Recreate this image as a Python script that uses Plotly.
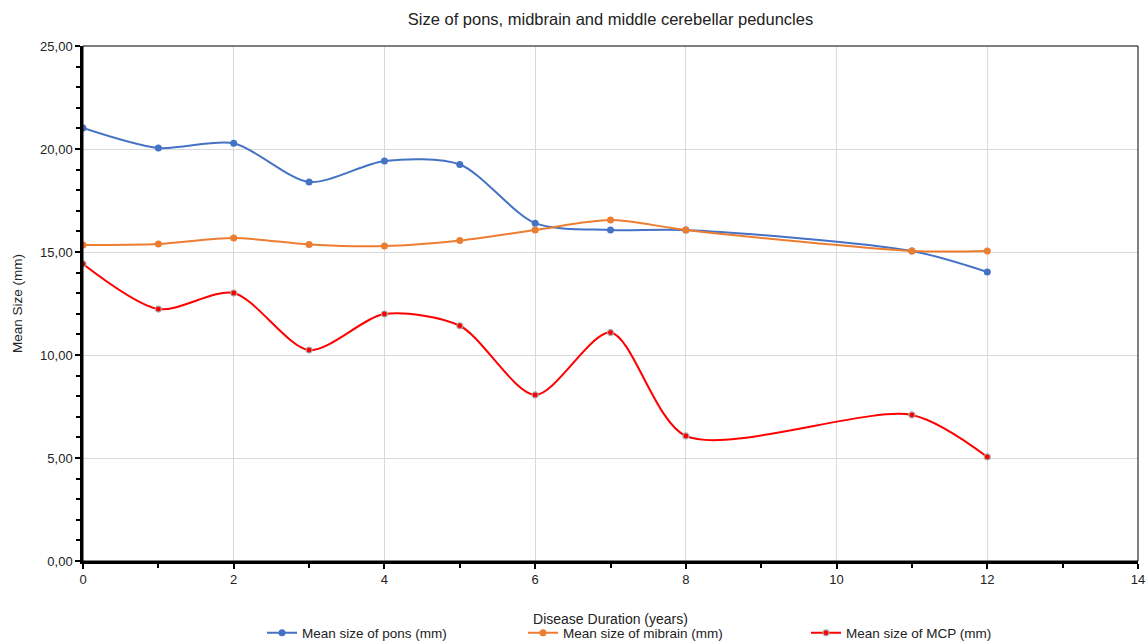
import plotly.graph_objects as go

years_pons = [0, 1, 2, 3, 4, 5, 6, 7, 8, 11, 12]
pons = [21.02, 20.05, 20.28, 18.40, 19.42, 19.25, 16.40, 16.07, 16.07, 15.05, 14.03]

years_mid = [0, 1, 2, 3, 4, 5, 6, 7, 8, 11, 12]
midbrain = [15.34, 15.39, 15.68, 15.37, 15.29, 15.56, 16.07, 16.55, 16.07, 15.05, 15.05]

years_mcp = [0, 1, 2, 3, 4, 5, 6, 7, 8, 11, 12]
mcp = [14.42, 12.23, 13.01, 10.24, 11.99, 11.42, 8.06, 11.09, 6.07, 7.09, 5.05]

FONT = "Liberation Sans"
TXT = "#222222"

fig = go.Figure()
fig.add_trace(go.Scatter(
    x=years_pons, y=pons, mode="lines+markers", name="Mean size of pons (mm)",
    line=dict(color="#4472C4", width=2, shape="spline", smoothing=0.8),
    marker=dict(color="#4472C4", size=7), legend="legend"))
fig.add_trace(go.Scatter(
    x=years_mid, y=midbrain, mode="lines+markers", name="Mean size of mibrain (mm)",
    line=dict(color="#ED7D31", width=2, shape="spline", smoothing=0.8),
    marker=dict(color="#ED7D31", size=7), legend="legend2"))
fig.add_trace(go.Scatter(
    x=years_mcp, y=mcp, mode="lines+markers", name="Mean size of MCP (mm)",
    line=dict(color="#FF0000", width=2, shape="spline", smoothing=0.8),
    marker=dict(color="#FF0000", size=6, line=dict(color="#A5A5A5", width=1.2)),
    legend="legend3"))

PW = 1055.0
legend_common = dict(orientation="h", yanchor="middle", xanchor="left",
                     y=(561 - 633) / 515.0, yref="paper",
                     font=dict(family=FONT, size=13.5, color=TXT),
                     bgcolor="rgba(0,0,0,0)", itemwidth=30, borderwidth=0)

fig.update_layout(
    width=1148, height=643,
    separators=",.",
    showlegend=True,
    paper_bgcolor="white", plot_bgcolor="white",
    margin=dict(l=83, r=10, t=46, b=82, autoexpand=False),
    font=dict(family=FONT, size=12, color=TXT),
    title=dict(text="Size of pons, midbrain and middle cerebellar peduncles",
               x=(83 + 1138) / 2 / 1148, xanchor="center", y=1 - 19 / 643, yanchor="middle",
               font=dict(family=FONT, size=16.5, color=TXT)),
    legend=dict(**legend_common, x=(262 - 83) / PW),
    legend2=dict(**legend_common, x=(523 - 83) / PW),
    legend3=dict(**legend_common, x=(806 - 83) / PW),
    xaxis=dict(range=[0, 14], dtick=2, tick0=0, showgrid=True, gridcolor="#D9D9D9",
               gridwidth=1.3, zeroline=False, showline=True, linecolor="black", linewidth=2.5,
               ticks="outside", ticklen=5, tickcolor="black", tickwidth=1.5,
               automargin=False,
               minor=dict(dtick=1, tick0=0, ticks="outside", ticklen=4, tickcolor="black",
                          showgrid=False),
               title=dict(text="Disease Duration (years)", standoff=28,
                          font=dict(family=FONT, size=14, color=TXT)),
               tickfont=dict(family=FONT, size=13, color=TXT)),
    yaxis=dict(range=[0, 25], dtick=5, tick0=0, tickformat=".2f", showgrid=True,
               gridcolor="#D9D9D9", gridwidth=1.3, zeroline=False, showline=True,
               linecolor="black", linewidth=2.5, ticks="outside", ticklen=5,
               tickcolor="black", tickwidth=1.5, automargin=False,
               minor=dict(dtick=1, tick0=0, ticks="outside", ticklen=4, tickcolor="black",
                          showgrid=False),
               title=dict(text="Mean Size (mm)", standoff=15,
                          font=dict(family=FONT, size=13.5, color=TXT)),
               tickfont=dict(family=FONT, size=13, color=TXT)),
    shapes=[dict(type="rect", xref="paper", yref="paper", x0=0, x1=1, y0=0, y1=1,
                 line=dict(color="black", width=1), layer="above")],
)

fig.write_html("out.html", config={"displayModeBar": False},
               post_script="document.body.style.margin='0';document.body.style.overflow='hidden';")
